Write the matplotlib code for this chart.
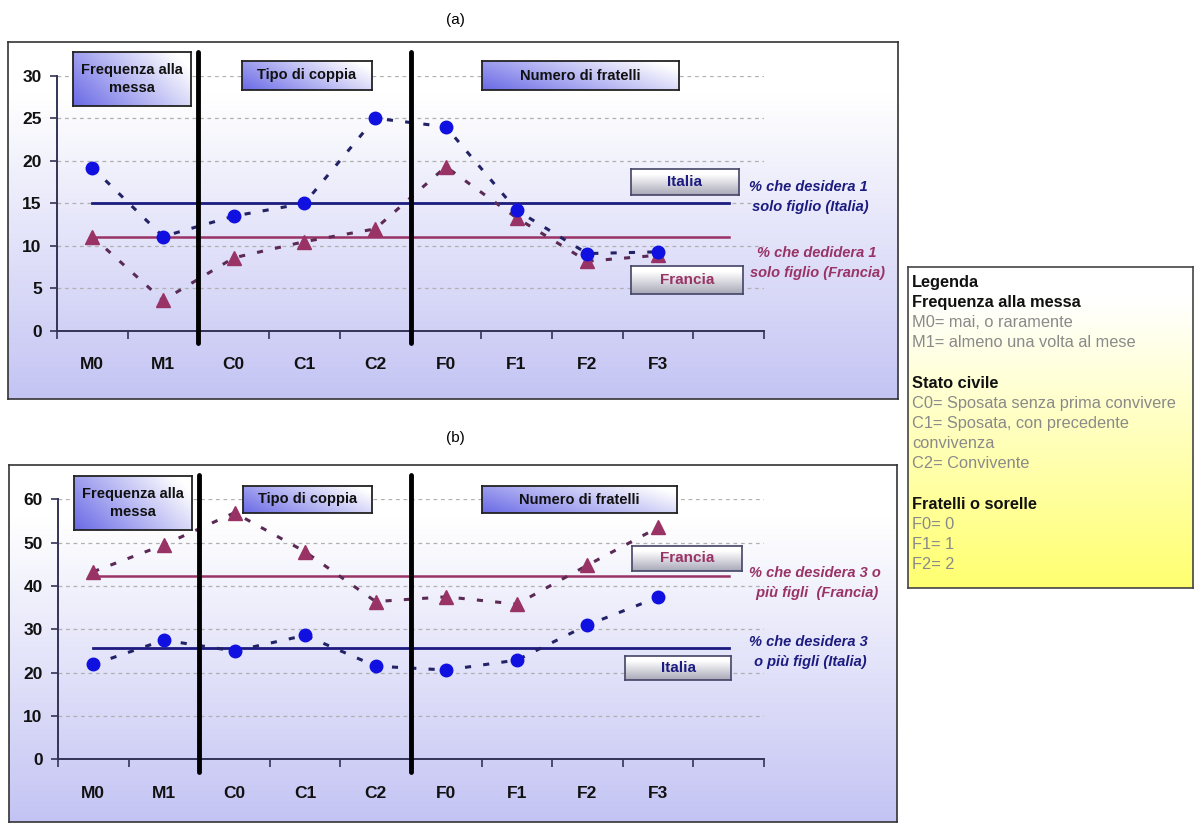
import numpy as np
import matplotlib
matplotlib.use("Agg")
import matplotlib.pyplot as plt

plt.rcParams['font.family'] = ['Liberation Sans Narrow', 'Liberation Sans', 'DejaVu Sans']

W, H = 1194, 823

categories = ["M0", "M1", "C0", "C1", "C2", "F0", "F1", "F2", "F3", ""]

# (a) % che desidera 1 solo figlio
a_italia = [19.2, 11.1, 13.5, 15.0, 25.0, 24.0, 14.2, 9.1, 9.3]
a_francia = [11.1, 3.6, 8.6, 10.5, 12.0, 19.3, 13.3, 8.2, 8.9]
a_ref_italia = 15.0
a_ref_francia = 11.1

# (b) % che desidera 3 o più figli
b_italia = [21.9, 27.5, 25.0, 28.6, 21.5, 20.6, 22.9, 31.0, 37.4]
b_francia = [43.3, 49.5, 56.9, 47.9, 36.4, 37.5, 35.8, 44.8, 53.5]
b_ref_italia = 25.8
b_ref_francia = 42.3

legend_lines = [
    ("Legenda", True), ("Frequenza alla messa", True),
    ("M0= mai, o raramente", False), ("M1= almeno una volta al mese", False),
    ("", False), ("Stato civile", True),
    ("C0= Sposata senza prima convivere", False), ("C1= Sposata, con precedente", False),
    ("convivenza", False), ("C2= Convivente", False),
    ("", False), ("Fratelli o sorelle", True),
    ("F0= 0", False), ("F1= 1", False), ("F2= 2", False),
]

BLUE = "#1010e0"
NAVY = "#1c1c80"
MAROON = "#993366"

fig = plt.figure(figsize=(W / 100, H / 100), dpi=100)
fig.patch.set_facecolor("white")


def px_axes(x0, y0, x1, y1, **kw):
    return fig.add_axes([x0 / W, 1 - y1 / H, (x1 - x0) / W, (y1 - y0) / H], **kw)


def gradient_bg(ax, top, bottom, start=0.0):
    n = 200
    t = np.linspace(0, 1, n)[:, None]
    t = np.clip((t - start) / (1 - start), 0, 1)
    top = np.array(matplotlib.colors.to_rgb(top))
    bottom = np.array(matplotlib.colors.to_rgb(bottom))
    img = top[None, None, :] * (1 - t[:, :, None]) + bottom[None, None, :] * t[:, :, None]
    img = np.repeat(img, 2, axis=1)
    ax.imshow(img, aspect="auto", extent=[0, 1, 0, 1], interpolation="bilinear")
    ax.set_xlim(0, 1)
    ax.set_ylim(0, 1)
    ax.set_xticks([])
    ax.set_yticks([])


def frame(x0, y0, x1, y1):
    ax = px_axes(x0, y0, x1, y1)
    gradient_bg(ax, "#ffffff", "#c4c4f4", start=0.15)
    for s in ax.spines.values():
        s.set_color("#333333")
        s.set_linewidth(1.2)
    return ax


def blue_box(x0, y0, x1, y1, text, fs=10.5):
    ax = px_axes(x0, y0, x1, y1)
    nx, ny = 120, 40
    xx, yy = np.meshgrid(np.linspace(0, 1, nx), np.linspace(1, 0, ny))
    t = np.clip(1 - (0.75 * xx + 0.35 * yy), 0, 1)
    c0 = np.array([1.0, 1.0, 1.0])
    c1 = np.array(matplotlib.colors.to_rgb("#6a6ae6"))
    img = c0 * (1 - t[..., None]) + c1 * t[..., None]
    ax.imshow(img, aspect="auto", extent=[0, 1, 0, 1])
    ax.set_xticks([])
    ax.set_yticks([])
    for s in ax.spines.values():
        s.set_color("#222222")
        s.set_linewidth(1.3)
    ax.text(0.5, 0.5, text, ha="center", va="center", fontsize=fs,
            fontweight="bold", color="#111111", linespacing=1.3)


def gray_box(x0, y0, x1, y1, text, color):
    ax = px_axes(x0, y0, x1, y1)
    gradient_bg(ax, "#ffffff", "#a8a8b8", start=0.2)
    for s in ax.spines.values():
        s.set_color("#444466")
        s.set_linewidth(1.2)
    ax.text(0.5, 0.5, text, ha="center", va="center", fontsize=11,
            fontweight="bold", color=color)


def panel(rect, ylim, yticks, italia, francia, ref_it, ref_fr, vline_span):
    ax = px_axes(*rect)
    ax.patch.set_alpha(0)
    x = np.arange(len(italia))
    ax.set_xlim(-0.5, len(categories) - 0.5)
    ax.set_ylim(*ylim)
    ax.yaxis.grid(True, linestyle=(0, (3, 3)), color="#b0b0b0", linewidth=0.9)
    ax.set_axisbelow(True)
    ax.plot([0, len(italia)], [ref_fr, ref_fr], color=MAROON, lw=1.8, zorder=2)
    ax.plot([0, len(italia)], [ref_it, ref_it], color=NAVY, lw=2, zorder=2)
    ax.plot(x, francia, linestyle=(0, (2, 4)), color="#5a2a55", lw=2.2,
            marker="^", markersize=10, markerfacecolor=MAROON,
            markeredgecolor=MAROON, zorder=3)
    ax.plot(x, italia, linestyle=(0, (2, 4)), color="#222266", lw=2.2,
            marker="o", markersize=9, markerfacecolor=BLUE,
            markeredgecolor=BLUE, zorder=4)
    for xv in (1.5, 4.5):
        ax.plot([xv, xv], vline_span, color="black", lw=3.5,
                solid_capstyle="round", clip_on=False, zorder=5)
    ax.set_yticks(yticks)
    ax.set_xticks(np.arange(-0.5, len(categories)))
    ax.set_xticklabels([])
    ax.set_xticks(np.arange(len(categories)), minor=True)
    ax.set_xticklabels(categories, minor=True)
    ax.tick_params(axis="x", which="minor", length=0, pad=19, labelsize=12.5)
    ax.tick_params(axis="x", which="major", length=6, width=1.2, color="#333355")
    ax.tick_params(axis="y", length=5, width=1.2, color="#333355", labelsize=12.5, pad=6)
    for lab in ax.get_xticklabels(minor=True) + ax.get_yticklabels():
        lab.set_fontweight("bold")
        lab.set_color("#111111")
    for s in ("top", "right"):
        ax.spines[s].set_visible(False)
    for s in ("left", "bottom"):
        ax.spines[s].set_color("#333355")
        ax.spines[s].set_linewidth(1.4)
    return ax


# panel (a)
frame(8, 42, 898, 399)
ax_a = panel((57, 75.7, 764, 331), (0, 30), range(0, 31, 5),
             a_italia, a_francia, a_ref_italia, a_ref_francia, (-1.4, 32.8))
fig.text(455 / W, 1 - 20 / H, "(a)", ha="center", va="center", fontsize=11)
blue_box(73, 52, 191, 106, "Frequenza alla\nmessa")
blue_box(242, 61, 372, 90, "Tipo di coppia")
blue_box(482, 61, 679, 90, "Numero di fratelli")
gray_box(631, 169, 739, 195, "Italia", NAVY)
gray_box(631, 266, 743, 294, "Francia", MAROON)
fig.text(808 / W, 1 - 197 / H, "% che desidera 1\n solo figlio (Italia)", ha="center",
         va="center", fontsize=10.5, style="italic", fontweight="bold", color=NAVY,
         linespacing=1.5)
fig.text(817 / W, 1 - 263 / H, "% che dedidera 1\nsolo figlio (Francia)", ha="center",
         va="center", fontsize=10.5, style="italic", fontweight="bold", color=MAROON,
         linespacing=1.5)

# panel (b)
frame(9, 465, 897, 822)
ax_b = panel((58, 499.3, 764, 759.3), (0, 60), range(0, 61, 10),
             b_italia, b_francia, b_ref_italia, b_ref_francia, (-2.9, 65.6))
fig.text(455 / W, 1 - 438 / H, "(b)", ha="center", va="center", fontsize=11)
blue_box(74, 476, 192, 530, "Frequenza alla\nmessa")
blue_box(243, 486, 372, 513, "Tipo di coppia")
blue_box(482, 486, 677, 513, "Numero di fratelli")
gray_box(632, 546, 742, 571, "Francia", MAROON)
gray_box(625, 656, 731, 680, "Italia", NAVY)
fig.text(815 / W, 1 - 583 / H, "% che desidera 3 o\n più figli  (Francia)", ha="center",
         va="center", fontsize=10.5, style="italic", fontweight="bold", color=MAROON,
         linespacing=1.5)
fig.text(808 / W, 1 - 652 / H, "% che desidera 3\n o più figli (Italia)", ha="center",
         va="center", fontsize=10.5, style="italic", fontweight="bold", color=NAVY,
         linespacing=1.5)

# side legend box
ax_l = px_axes(908, 267, 1193, 588)
gradient_bg(ax_l, "#ffffff", "#ffff70", start=0.1)
for s in ax_l.spines.values():
    s.set_color("#444444")
    s.set_linewidth(1.2)
y = 282
for txt, bold in legend_lines:
    if txt:
        fig.text(912 / W, 1 - y / H, txt, ha="left", va="center", fontsize=11.8,
                 fontweight="bold" if bold else "normal",
                 color="#111111" if bold else "#8a8a8a")
    y += 20.2

fig.savefig("out.png", dpi=100)
